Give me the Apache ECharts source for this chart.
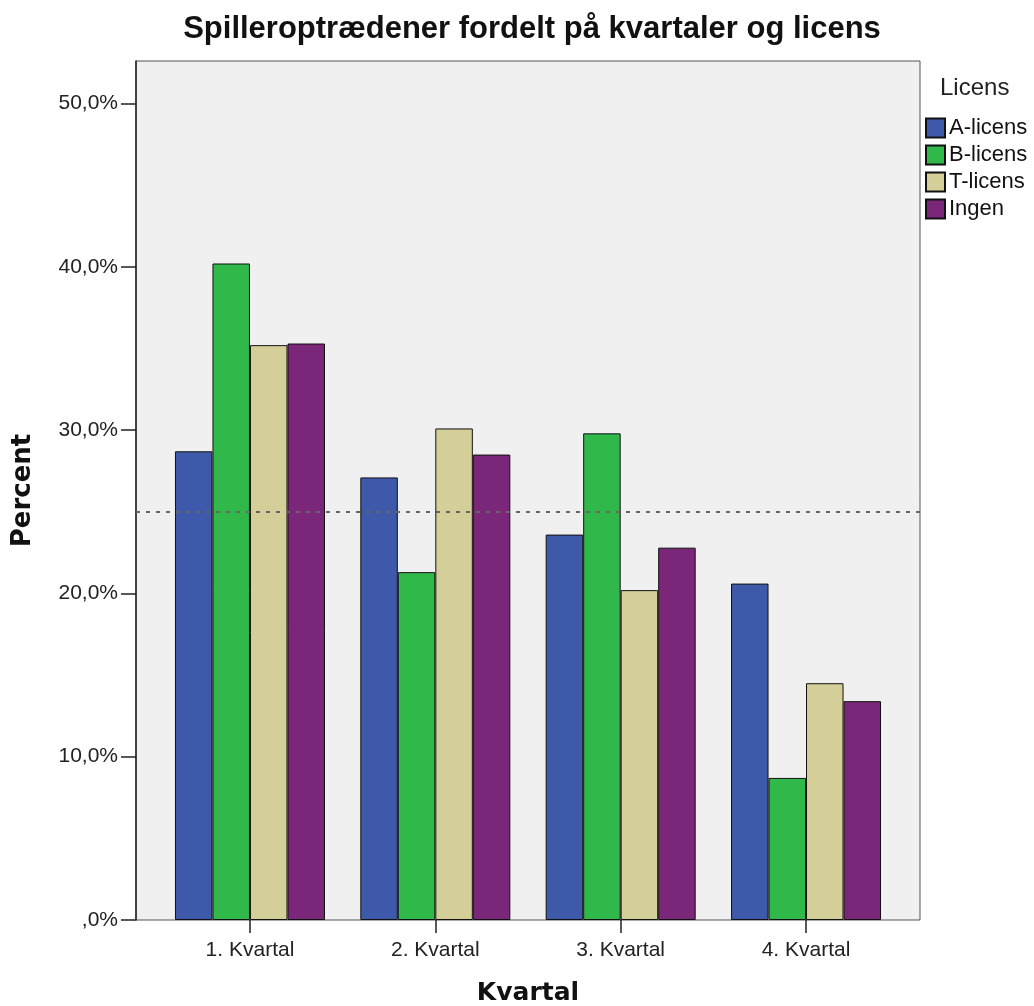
<!DOCTYPE html>
<html>
<head>
<meta charset="utf-8">
<script src="https://cdn.jsdelivr.net/npm/echarts@6/dist/echarts.min.js"></script>
<style>
  html, body { margin: 0; padding: 0; background: #fff; }
  #chart { width: 1034px; height: 1006px; }
</style>
</head>
<body>
<div id="chart"></div>
<script>
// data
var kvartaler = ['1. Kvartal', '2. Kvartal', '3. Kvartal', '4. Kvartal'];
var licenser = ['A-licens', 'B-licens', 'T-licens', 'Ingen'];
var aLicens = [28.7, 27.1, 23.6, 20.6];
var bLicens = [40.2, 21.3, 29.8, 8.7];
var tLicens = [35.2, 30.1, 20.2, 14.5];
var ingen = [35.3, 28.5, 22.8, 13.4];
var yTicks = [0, 10, 20, 30, 40, 50];
var refLinje = 25;
var farver = ['#3e58aa', '#31b84b', '#d4cf98', '#7b2779'];

var font = 'Liberation Sans, Arial, sans-serif';
var boldFont = 'DejaVu Sans, sans-serif';
var yMax = 52.6;

var values = [aLicens, bLicens, tLicens, ingen];

var myChart = echarts.init(document.getElementById('chart'));

var series = licenser.map(function (navn, i) {
    return {
        name: navn,
        type: 'bar',
        xAxisIndex: 0,
        yAxisIndex: 0,
        barWidth: 37.5,
        barGap: '0%',
        data: values[i],
        itemStyle: {
            color: farver[i],
            borderColor: '#111',
            borderWidth: 1
        },
        emphasis: { disabled: true }
    };
});

// stiplet linje ved 25%
series.push({
    type: 'line',
    xAxisIndex: 1,
    yAxisIndex: 1,
    data: [],
    silent: true,
    markLine: {
        symbol: 'none',
        silent: true,
        label: { show: false },
        lineStyle: { color: '#666', type: [4, 6], width: 2 },
        data: [{ yAxis: refLinje }]
    }
});

var option = {
    animation: false,
    color: farver,
    title: [{
        text: 'Spilleroptrædener fordelt på kvartaler og licens',
        left: 527,
        textAlign: 'center',
        top: 9,
        textStyle: { fontFamily: font, fontSize: 31, fontWeight: 'bold', color: '#111' }
    }, {
        text: 'Licens',
        left: 935,
        top: 71,
        textStyle: { fontFamily: font, fontSize: 24, fontWeight: 'normal', color: '#222' }
    }],
    legend: {
        data: licenser,
        orient: 'vertical',
        left: 920,
        top: 112,
        itemWidth: 19,
        itemHeight: 19,
        itemGap: 5,
        icon: 'rect',
        textStyle: { fontFamily: font, fontSize: 22, lineHeight: 19, color: '#111', padding: [0, 0, 0, -1] }
    },
    grid: [{
        // indre grid til søjlerne
        left: 157.3,
        right: 135.3,
        top: 61,
        bottom: 86,
        outerBoundsMode: 'none'
    }, {
        // ydre plotområde
        left: 136,
        right: 114,
        top: 61,
        bottom: 86,
        outerBoundsMode: 'none',
        show: true,
        backgroundColor: '#f0f0f0',
        borderColor: '#555',
        borderWidth: 1,
        z: 0
    }],
    xAxis: [{
        type: 'category',
        gridIndex: 0,
        data: kvartaler,
        axisLine: { show: false },
        axisTick: { show: true, alignWithLabel: true, length: 13, lineStyle: { color: '#222', width: 1.5 } },
        axisLabel: { fontFamily: font, fontSize: 21, color: '#222', margin: 20 },
        name: 'Kvartal',
        nameLocation: 'middle',
        nameGap: 61,
        nameTextStyle: { fontFamily: boldFont, fontSize: 25, fontWeight: 'bold', color: '#111' }
    }, {
        type: 'value',
        gridIndex: 1,
        show: false
    }],
    yAxis: [{
        type: 'value',
        gridIndex: 0,
        min: 0,
        max: yMax,
        show: false
    }, {
        type: 'value',
        gridIndex: 1,
        min: 0,
        max: yMax,
        splitLine: { show: false },
        axisLine: { show: true, lineStyle: { color: '#222', width: 1.5 } },
        axisTick: { show: true, length: 15, customValues: yTicks, lineStyle: { color: '#222', width: 1.5 } },
        axisLabel: {
            fontFamily: font,
            fontSize: 21,
            color: '#222',
            margin: 18,
            customValues: yTicks,
            formatter: function (v) {
                if (v === 0) return ',0%';
                return v.toFixed(1).replace('.', ',') + '%';
            }
        },
        name: 'Percent',
        nameLocation: 'middle',
        nameGap: 100,
        nameTextStyle: { fontFamily: boldFont, fontSize: 26, fontWeight: 'bold', color: '#111' }
    }],
    series: series
};

myChart.setOption(option);
window.addEventListener('resize', function () {
    myChart.resize();
});
</script>
</body>
</html>
